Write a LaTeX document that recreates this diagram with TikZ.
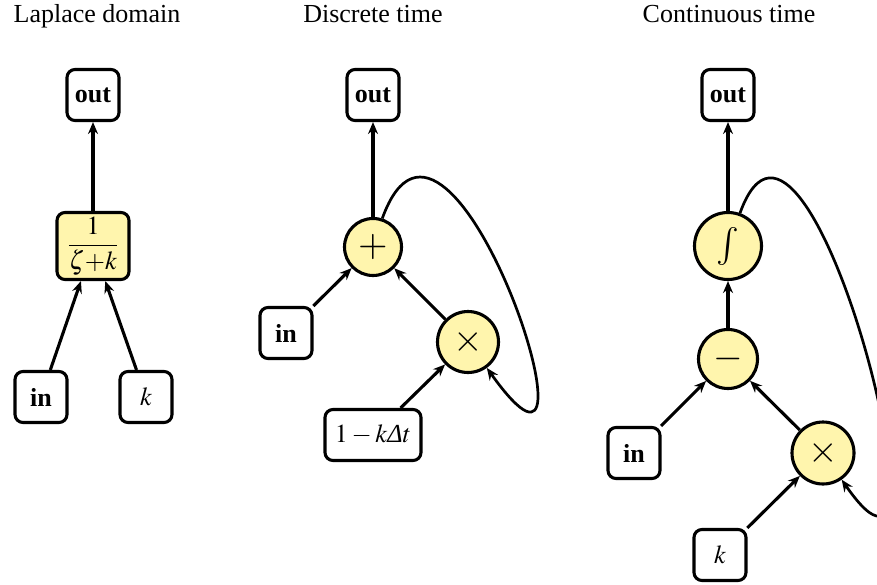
\documentclass[tikz,border=0pt]{standalone}
\usepackage{mathptmx}
\usepackage{fontspec}
\setmainfont{Liberation Serif}
\usetikzlibrary{arrows.meta}
\definecolor{nodeyellow}{RGB}{255,245,173}
\begin{document}
\begin{tikzpicture}[x=1pt,y=-1pt,
  font=\fontsize{26}{31}\selectfont,
  box/.style={draw, line width=3.1pt, rounded corners=8pt, fill=white, minimum width=52pt, minimum height=51pt, inner sep=3pt},
  op/.style={circle, draw, line width=3.1pt, fill=nodeyellow, inner sep=0pt, font=\fontsize{38}{40}\selectfont},
  arr/.style={line width=3.1pt, -{Stealth[length=12pt,width=10pt,inset=4pt]}},
  fb/.style={line width=2.7pt, -{Stealth[length=12pt,width=10pt,inset=4pt]}},
  title/.style={anchor=base}]
\useasboundingbox (0,0) rectangle (877,584);
\clip (0,0) rectangle (877,584);
% Laplace domain
\node[title] (t1) at (97,22) {Laplace domain};
\node[box] (lout) at (93,95) {\textbf{out}};
\node[box, fill=nodeyellow, minimum width=72pt, minimum height=67pt] (lf) at (93,246) {$\displaystyle\frac{1}{\zeta{+}k}$};
\node[box] (lin) at (41,397) {\textbf{in}};
\node[box] (lk) at (146,397) {$k$};
\draw[arr] (lf) -- (lout);
\draw[arr] (lin) -- (lf);
\draw[arr] (lk) -- (lf);
% Discrete time
\node[title] (t2) at (373,22) {Discrete time};
\node[box] (mout) at (373,95) {\textbf{out}};
\node[op, minimum size=57pt] (mplus) at (373,247) {$+$};
\node[box] (min) at (286,333) {\textbf{in}};
\node[op, minimum size=61pt] (mtimes) at (468,342) {$\times$};
\node[box, minimum width=96pt] (mc) at (373,435) {$1-k\mbox{\itshape Δ}t$};
\draw[arr] (mplus) -- (mout);
\draw[arr] (min) -- (mplus);
\draw[arr] (mtimes) -- (mplus);
\draw[arr] (mc) -- (mtimes);
\draw[fb] (mplus.72) .. controls +(68,-188) and +(133,186) .. (mtimes.-54);
% Continuous time
\node[title] (t3) at (729,22) {Continuous time};
\node[box] (rout) at (728,95) {\textbf{out}};
\node[op, minimum size=67pt] (rint) at (728,246) {$\int$};
\node[op, minimum size=59pt] (rminus) at (728,359) {$-$};
\node[box] (rin) at (634,453) {\textbf{in}};
\node[op, minimum size=62pt] (rtimes) at (823,453) {$\times$};
\node[box] (rk) at (720,555) {$k$};
\draw[arr] (rint) -- (rout);
\draw[arr] (rminus) -- (rint);
\draw[arr] (rin) -- (rminus);
\draw[arr] (rtimes) -- (rminus);
\draw[arr] (rk) -- (rtimes);
\draw[fb] (rint.70) .. controls +(68,-188) and +(125,180) .. (rtimes.-55);
\end{tikzpicture}
\end{document}
